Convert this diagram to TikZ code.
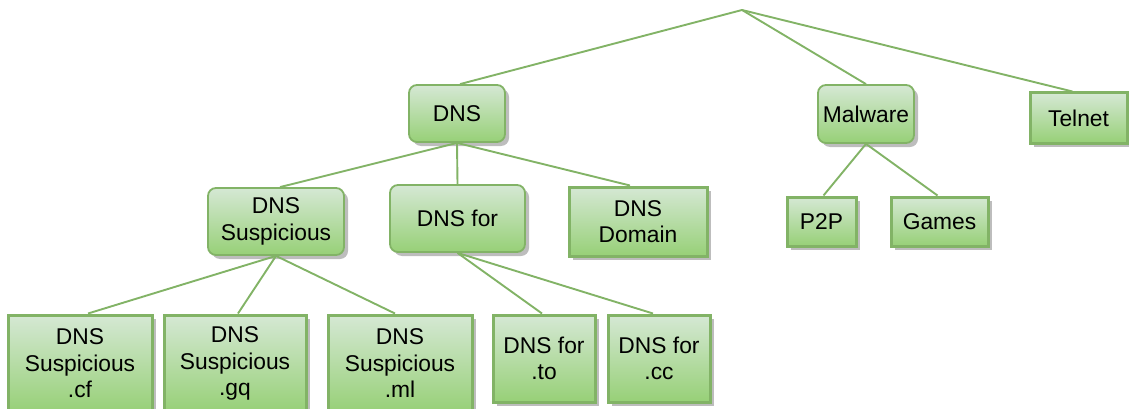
\documentclass[tikz,border=0pt]{standalone}
\usepackage{fontspec}
\setmainfont{Liberation Sans}
\usetikzlibrary{shadows}
\definecolor{leafTop}{HTML}{D5E8D4}
\definecolor{leafBot}{HTML}{97D077}
\definecolor{edgeGreen}{HTML}{82B366}
\definecolor{shadowGray}{HTML}{BDBDBD}
\tikzset{
  box/.style={draw=edgeGreen, top color=leafTop, bottom color=leafBot,
    align=center, inner sep=0pt, font=\fontsize{22.8}{26.5}\selectfont,
    drop shadow={shadow xshift=4pt, shadow yshift=-4pt, fill=shadowGray, opacity=1}},
  inner/.style={box, rounded corners=8pt, line width=1.8pt},
  leaf/.style={box, line width=3pt},
  link/.style={draw=edgeGreen, line width=1.9pt},
}
\begin{document}
\begin{tikzpicture}[x=1pt, y=-1pt]
\useasboundingbox (0,0) rectangle (1129,409);

% top level
\coordinate (root) at (742,10);
\node[inner, minimum width=96pt, minimum height=57pt] (dns) at (457,113.5) {DNS};
\node[inner, minimum width=96pt, minimum height=58pt] (malware) at (866,114) {Malware};
\node[leaf, minimum width=97pt, minimum height=50pt] (telnet) at (1078.5,118) {Telnet};

% malware children
\node[leaf, minimum width=69pt, minimum height=49pt] (p2p) at (821.5,221.5) {P2P};
\node[leaf, minimum width=97pt, minimum height=49pt] (games) at (939.5,221.5) {Games};

% DNS children
\node[inner, minimum width=136pt, minimum height=67pt] (susp) at (276,221.5) {DNS\\Suspicious};
\node[inner, minimum width=135pt, minimum height=67pt] (dnsfor) at (457.5,218.5) {DNS for};
\node[leaf, minimum width=138pt, minimum height=69pt] (domain) at (638,221.5) {DNS\\Domain};

% suspicious TLDs
\node[leaf, minimum width=144pt, minimum height=97pt] (cf) at (80,363.5) {DNS\\Suspicious\\.cf};
\node[leaf, minimum width=142pt, minimum height=97pt] (gq) at (235,363.5) {DNS\\Suspicious\\.gq};
\node[leaf, minimum width=144pt, minimum height=97pt] (ml) at (400,363.5) {DNS\\Suspicious\\.ml};

% "DNS for" TLDs
\node[leaf, minimum width=102pt, minimum height=87pt] (to) at (544,358.5) {DNS for\\.to};
\node[leaf, minimum width=102pt, minimum height=87pt] (cc) at (659,358.5) {DNS for\\.cc};

% connectors
\draw[link] (root) -- ([xshift=3pt]dns.north);
\draw[link] (root) -- (malware.north);
\draw[link] (root) -- ([xshift=-6pt]telnet.north);
\draw[link] (malware.south) -- ([xshift=2pt]p2p.north);
\draw[link] (malware.south) -- ([xshift=-2pt]games.north);
\draw[link] (dns.south) -- ([xshift=4pt]susp.north);
\draw[link] (dns.south) -- (dnsfor.north);
\draw[link] (dns.south) -- ([xshift=-8pt]domain.north);
\draw[link] (susp.south) -- ([xshift=8pt]cf.north);
\draw[link] (susp.south) -- ([xshift=3pt]gq.north);
\draw[link] (susp.south) -- ([xshift=-5pt]ml.north);
\draw[link] (dnsfor.south) -- ([xshift=-2pt]to.north);
\draw[link] (dnsfor.south) -- ([xshift=-6pt]cc.north);
\end{tikzpicture}
\end{document}
